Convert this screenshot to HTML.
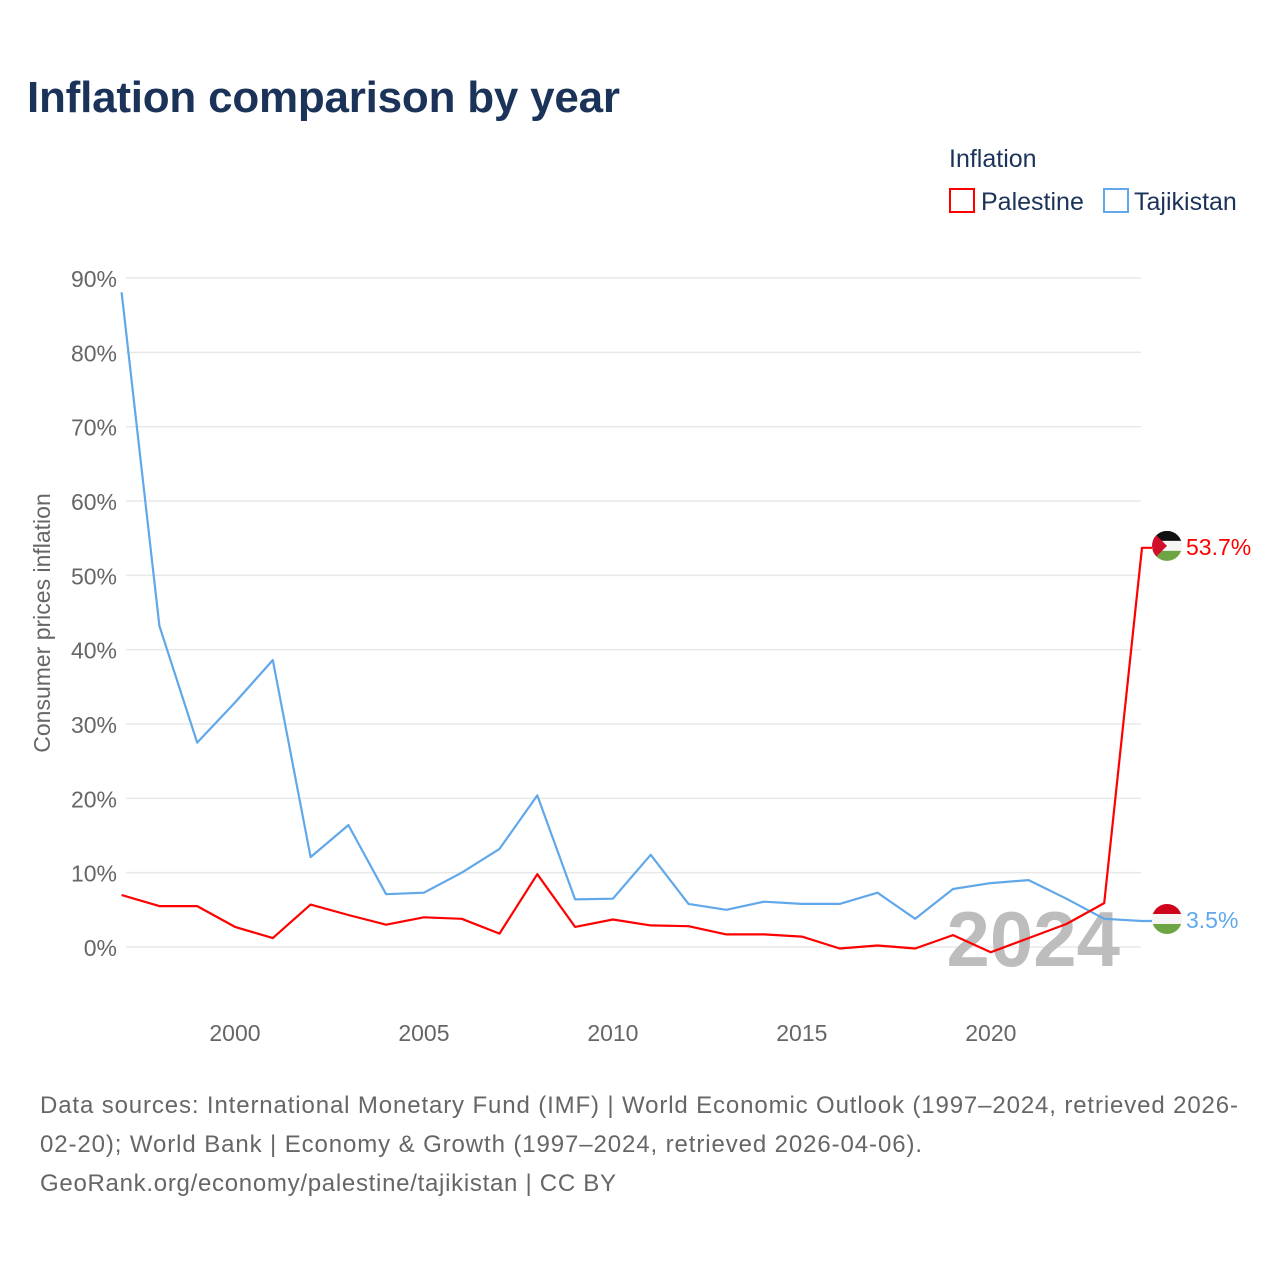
<!DOCTYPE html>
<html><head><meta charset="utf-8"><style>
body{margin:0;background:#fff;width:1280px;height:1280px;overflow:hidden;font-family:"Liberation Sans",sans-serif}
</style></head><body>
<svg width="1280" height="1280" xmlns="http://www.w3.org/2000/svg" id="svg">
<text x="27" y="112" font-size="44" font-weight="bold" fill="#1b3358" textLength="593">Inflation comparison by year</text>
<text x="949" y="167" font-size="25" fill="#1b3358">Inflation</text>
<g><rect x="950" y="189" width="24" height="23" fill="none" stroke="#ff0000" stroke-width="2"/><text x="981" y="210" font-size="25" fill="#1b3358">Palestine</text></g>
<g><rect x="1104" y="189" width="24" height="23" fill="none" stroke="#60a8ea" stroke-width="2"/><text x="1134" y="210" font-size="25" fill="#1b3358">Tajikistan</text></g>
<text transform="translate(50,623) rotate(-90)" text-anchor="middle" font-size="23" fill="#666">Consumer prices inflation</text>
<g id="grid"></g><g id="yt"></g><g id="xt"></g>
<text x="1120" y="966" text-anchor="end" font-size="78" font-weight="bold" fill="#bdbdbd">2024</text>
<g id="lines"></g>
<text x="40" y="1113" font-size="24" fill="#666" textLength="1198">Data sources: International Monetary Fund (IMF) | World Economic Outlook (1997–2024, retrieved 2026-</text>
<text x="40" y="1152" font-size="24" fill="#666" textLength="882">02-20); World Bank | Economy &amp; Growth (1997–2024, retrieved 2026-04-06).</text>
<text x="40" y="1191" font-size="24" fill="#666" textLength="576">GeoRank.org/economy/palestine/tajikistan | CC BY</text>
</svg>
<script>
const years=[1997,1998,1999,2000,2001,2002,2003,2004,2005,2006,2007,2008,2009,2010,2011,2012,2013,2014,2015,2016,2017,2018,2019,2020,2021,2022,2023,2024];
const palestine=[7.0,5.5,5.5,2.7,1.2,5.7,4.3,3.0,4.0,3.8,1.8,9.8,2.7,3.7,2.9,2.8,1.7,1.7,1.4,-0.2,0.2,-0.2,1.6,-0.7,1.2,3.1,5.9,53.7];
const tajikistan=[88.1,43.2,27.5,32.9,38.6,12.1,16.4,7.1,7.3,10.0,13.2,20.4,6.4,6.5,12.4,5.8,5.0,6.1,5.8,5.8,7.3,3.8,7.8,8.6,9.0,6.5,3.8,3.5];
const yTicks=[0,10,20,30,40,50,60,70,80,90];
const xTicks=[2000,2005,2010,2015,2020];
const NS="http://www.w3.org/2000/svg";
const X=v=>121.6+(v-1997)*(1142-121.6)/27;
const Y=v=>947-v*7.433;
function mk(t,a,p){const e=document.createElementNS(NS,t);for(const k in a)e.setAttribute(k,a[k]);p.appendChild(e);return e;}
const g=document.getElementById('grid'),yt=document.getElementById('yt'),xt=document.getElementById('xt'),L=document.getElementById('lines');
yTicks.forEach(v=>{
 const l=mk('line',{x1:126,x2:1141,y1:Y(v),y2:Y(v),stroke:'#e8e8e8','stroke-width':1.5},g);
 
 
 const t=mk('text',{x:117,y:Y(v)+9,'text-anchor':'end','font-size':23,fill:'#666'},yt);t.textContent=v+'%';
 
 
});
xTicks.forEach(v=>{
 const t=mk('text',{x:X(v),y:1041,'text-anchor':'middle','font-size':23,fill:'#666'},xt);t.textContent=v;
 
 
});
function series(vals,color,name,label,flag){
 const pts=vals.map((v,i)=>X(years[i]).toFixed(1)+','+Y(v).toFixed(1));
 const lx=X(years[years.length-1]), ly=Y(vals[vals.length-1]);
 pts.push((lx+10)+','+ly.toFixed(1));
 const p=mk('polyline',{points:pts.join(' '),fill:'none',stroke:color,'stroke-width':2.2,'stroke-linejoin':'round'},L);
 
 
 const fg=mk('g',{},L);
 
 
 const cx=1167,r=15,cy=ly-2;
 const cp=mk('clipPath',{id:'c'+name},fg);mk('circle',{cx:cx,cy:cy,r:r},cp);
 const gg=mk('g',{'clip-path':'url(#c'+name+')'},fg);
 flag.forEach((c,i)=>mk('rect',{x:cx-r,y:cy-r+i*r*2/3,width:2*r,height:r*2/3+0.5,fill:c},gg));
 if(name==='palestine')mk('polygon',{points:`${cx-r},${cy-r} ${cx},${cy} ${cx-r},${cy+r}`,fill:'#d10f2a'},gg);
 const t=mk('text',{x:1186,y:ly+7,'font-size':23,fill:color},L);t.textContent=label(vals[vals.length-1]);
 
 
}
series(tajikistan,'#60a8ea','tajikistan',v=>v.toFixed(1)+'%',['#d0021b','#f5f5f5','#6da544']);
series(palestine,'#ff0000','palestine',v=>v.toFixed(1)+'%',['#111','#f5f5f5','#6da544']);
</script>
</body></html>
